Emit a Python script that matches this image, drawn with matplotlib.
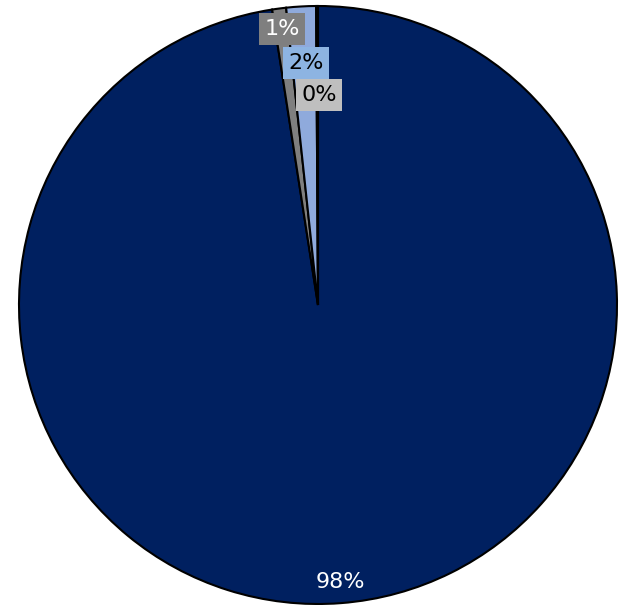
import matplotlib.pyplot as plt
import numpy as np

# parts of the whole, clockwise from 12 o'clock
names = ['A', 'B', 'C', 'D']
values = [97.55, 0.75, 1.6, 0.1]
colors = ['#002060', '#7F7F7F', '#8FAADC', '#BFBFBF']
box_colors = ['#002060', '#7F7F7F', '#8DB4E2', '#BFBFBF']
text_colors = ['white', 'white', 'black', 'black']

# label centres in pixels (from top-left of the figure)
label_px = [(340, 582), (282, 29), (306, 63), (319, 95)]

W, H = 621, 605
cx, cy, r = 318, 305, 299

fig = plt.figure(figsize=(W / 100, H / 100), dpi=100)
ax = fig.add_axes([0, 0, 1, 1])

ax.pie(values, colors=colors, startangle=90, counterclock=False,
       radius=1, center=(0, 0),
       wedgeprops=dict(edgecolor='black', linewidth=1.5))

total = sum(values)
for i, v in enumerate(values):
    px, py = label_px[i]
    x = (px - cx) / r
    y = (H - py - (H - cy)) / r
    txt = f"{v / total * 100:.0f}%"
    if i == 0:
        ax.text(x, y, txt, ha='center', va='center', fontsize=16,
                color=text_colors[i])
    else:
        ax.text(x, y, txt, ha='center', va='center', fontsize=16,
                color=text_colors[i],
                bbox=dict(boxstyle='square,pad=0.25', facecolor=box_colors[i],
                          edgecolor='none'))

ax.set_xlim(-cx / r, (W - cx) / r)
ax.set_ylim(-(H - cy) / r, cy / r)
ax.set_aspect('equal')
ax.axis('off')

fig.savefig('out.png', dpi=100)
